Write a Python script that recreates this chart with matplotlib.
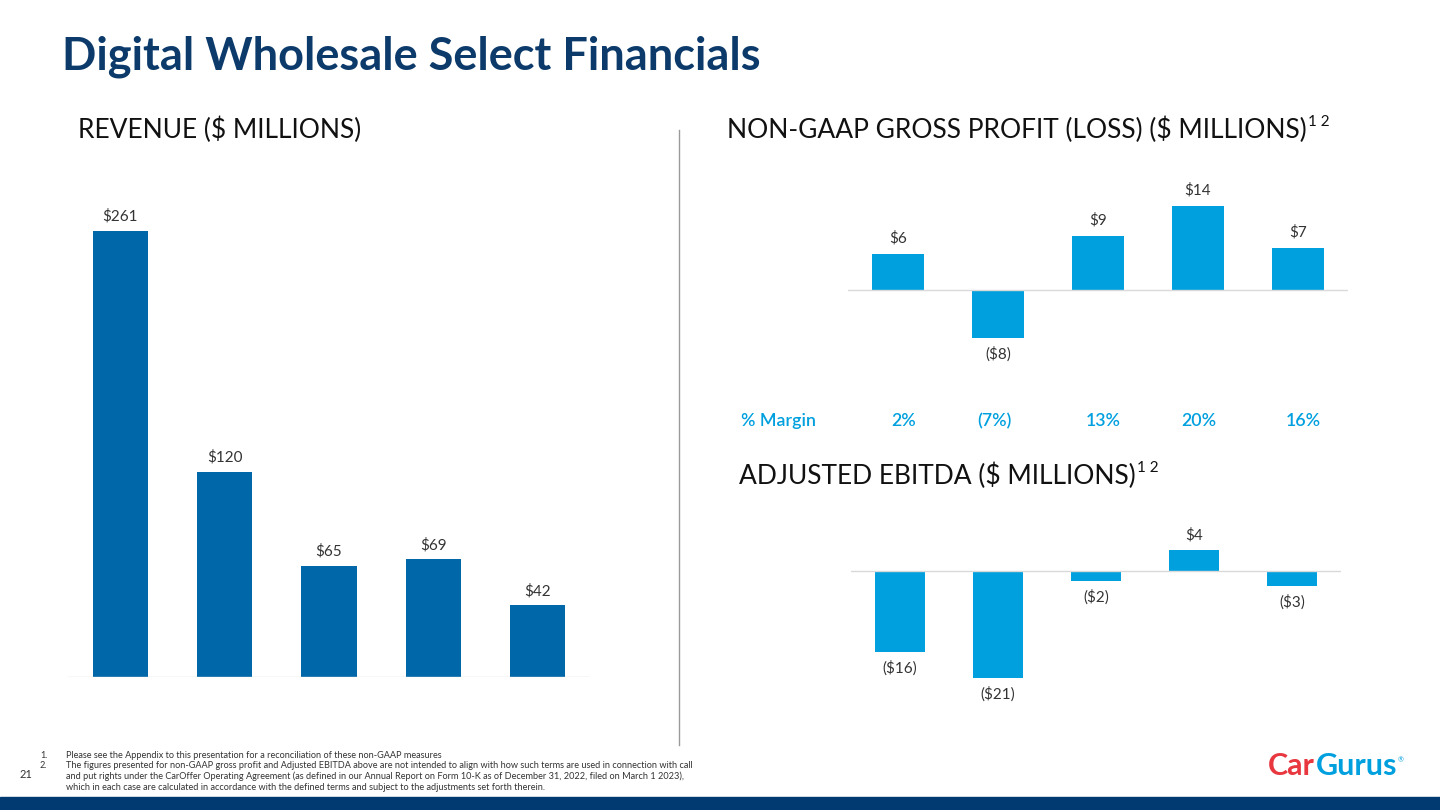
import matplotlib.pyplot as plt
from matplotlib.patches import Rectangle

# данні з слайду
periods = ["Q1", "Q2", "Q3", "Q4", "Q5"]
revenue = [261, 120, 65, 69, 42]
gross_profit = [6, -8, 9, 14, 7]
margin_labels = ["2%", "(7%)", "13%", "20%", "16%"]
ebitda = [-16, -21, -2, 4, -3]

footnotes = [
    "Please see the Appendix to this presentation for a reconciliation of these non-GAAP measures",
    "The figures presented for non-GAAP gross profit and Adjusted EBITDA above are not intended to align with how such terms are used in connection with call\n"
    "and put rights under the CarOffer Operating Agreement (as defined in our Annual Report on Form 10-K as of December 31, 2022, filed on March 1 2023),\n"
    "which in each case are calculated in accordance with the defined terms and subject to the adjustments set forth therein.",
]

W, H = 1440, 810
NAVY = "#0B3A6B"
DARK_BLUE = "#0068A8"
LIGHT_BLUE = "#00A0DF"

plt.rcParams['font.family'] = ['Lato', 'DejaVu Sans']

fig = plt.figure(figsize=(W / 100, H / 100), dpi=100)


def px_axes(x0, y0, x1, y1):
    return fig.add_axes([x0 / W, 1 - y1 / H, (x1 - x0) / W, (y1 - y0) / H])


def money(v):
    return f"${v}" if v >= 0 else f"(${-v})"


def clean(ax):
    ax.set_xticks([])
    ax.set_yticks([])
    for s in ax.spines.values():
        s.set_visible(False)
    ax.patch.set_alpha(0)


# Заголовок
fig.text(62 / W, 1 - 57 / H, "Digital Wholesale Select Financials", fontsize=32.5,
         fontweight='bold', color=NAVY, va='center', ha='left')

# Revenue
ax1 = px_axes(68, 181, 590, 677)
bars = ax1.bar(range(len(revenue)), revenue, width=0.53, color=DARK_BLUE)
ax1.bar_label(bars, labels=[money(v) for v in revenue], padding=5, fontsize=11, color='#333333')
ax1.set_xlim(-0.5, 4.5)
ax1.set_ylim(0, 290)
clean(ax1)
ax1.axhline(0, color='#D9D9D9', lw=1)
fig.text(78 / W, 1 - 130 / H, "REVENUE ($ MILLIONS)", fontsize=19, color='#111111', va='center')

# Divider
fig.add_artist(plt.Line2D([679 / W, 679 / W], [1 - 130 / H, 1 - 745 / H], color='#9A9A9A', lw=1))

# Gross profit
ax2 = px_axes(848, 182, 1348, 362)
bars = ax2.bar(range(len(gross_profit)), gross_profit, width=0.52, color=LIGHT_BLUE)
ax2.bar_label(bars, labels=[money(v) for v in gross_profit], padding=6, fontsize=11, color='#333333')
ax2.set_xlim(-0.5, 4.5)
ax2.set_ylim(-12, 18)
clean(ax2)
ax2.axhline(0, color='#D9D9D9', lw=1)
t2 = fig.text(727 / W, 1 - 130 / H, "NON-GAAP GROSS PROFIT (LOSS) ($ MILLIONS)", fontsize=19,
              color='#111111', va='center')
ax2.annotate("1 2", xy=(1, 1), xycoords=t2, xytext=(1, 1), textcoords='offset points',
             fontsize=11, color='#111111', va='top', ha='left', annotation_clip=False)

# % Margin
fig.text(741 / W, 1 - 421 / H, "% Margin", fontsize=12.8, color=LIGHT_BLUE, va='center',
         fontweight='semibold')
margin_x = [904, 994, 1103, 1199, 1303]
for xm, lab in zip(margin_x, margin_labels):
    fig.text(xm / W, 1 - 421 / H, lab, fontsize=12.8, color=LIGHT_BLUE, va='center', ha='center',
             fontweight='semibold')

# Adjusted EBITDA
ax3 = px_axes(851, 530, 1341, 698)
bars = ax3.bar(range(len(ebitda)), ebitda, width=0.52, color=LIGHT_BLUE)
ax3.bar_label(bars, labels=[money(v) for v in ebitda], padding=6, fontsize=11, color='#333333')
ax3.set_xlim(-0.5, 4.5)
ax3.set_ylim(-25, 8)
clean(ax3)
ax3.axhline(0, color='#D9D9D9', lw=1)
t3 = fig.text(739 / W, 1 - 476 / H, "ADJUSTED EBITDA ($ MILLIONS)", fontsize=19, color='#111111',
              va='center')
ax3.annotate("1 2", xy=(1, 1), xycoords=t3, xytext=(1, 1), textcoords='offset points',
             fontsize=11, color='#111111', va='top', ha='left', annotation_clip=False)

# Примітки
fs = 6.6
fig.text(40 / W, 1 - 756 / H, "1.", fontsize=fs, color='#333333', va='center')
fig.text(66 / W, 1 - 756 / H, footnotes[0], fontsize=fs, color='#333333', va='center')
fig.text(40 / W, 1 - 766 / H, "2.", fontsize=fs, color='#333333', va='center')
fig.text(66 / W, 1 - 761 / H, footnotes[1], fontsize=fs, color='#333333', va='top',
         linespacing=1.25)
fig.text(20 / W, 1 - 775 / H, "21", fontsize=8, color='#333333', va='center')

# Логотип
logo = fig.text(1268 / W, 1 - 766 / H, "Car", fontsize=22, color='#E8373F', va='center',
                fontweight='bold')
gurus = ax3.annotate("Gurus", xy=(1, 0.5), xycoords=logo, xytext=(0.5, 0),
                     textcoords='offset points', fontsize=22, color=LIGHT_BLUE, va='center',
                     ha='left', fontweight='bold', annotation_clip=False)
ax3.annotate("®", xy=(1, 1), xycoords=gurus, xytext=(0.5, -3), textcoords='offset points',
             fontsize=5, color=LIGHT_BLUE, va='top', ha='left', annotation_clip=False)

# Нижня смуга
fig.add_artist(Rectangle((0, 0), 1, 13 / H, transform=fig.transFigure, color='#003A70'))

plt.savefig("out.png", dpi=100)
